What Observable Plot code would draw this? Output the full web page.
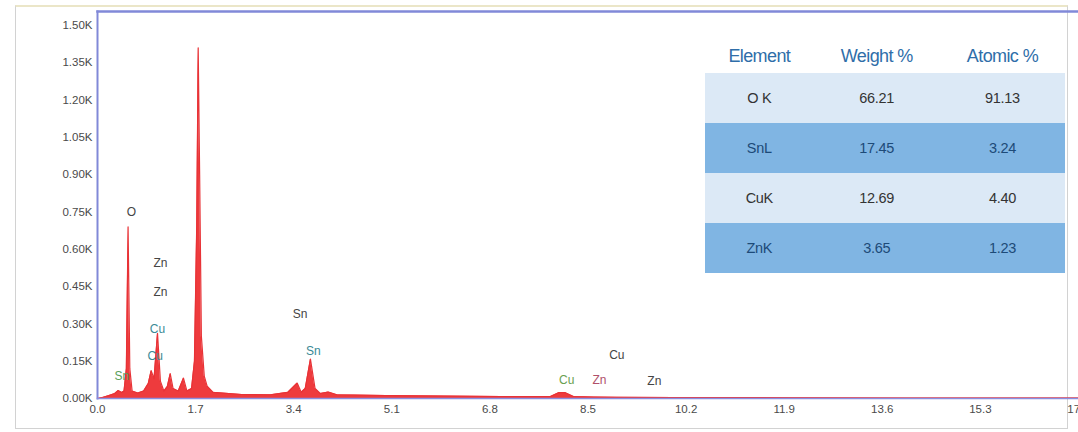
<!DOCTYPE html>
<html>
<head>
<meta charset="utf-8">
<script src="https://cdn.jsdelivr.net/npm/d3@7"></script>
<script src="https://cdn.jsdelivr.net/npm/@observablehq/plot@0.6"></script>
<style>
  body { margin: 0; background: #fff; font-family: "Liberation Sans", Arial, sans-serif; }
  #wrap { position: relative; width: 1078px; height: 432px; overflow: hidden; }
  #outer { position: absolute; left: 15px; top: 5px; width: 1053px; height: 424px; border: 1px solid #d2d2d2; border-top: 2px solid #ebe6c8; box-sizing: border-box; }
  #chart { position: absolute; left: 0; top: 0; }
  #tbl { position: absolute; left: 705px; top: 40px; width: 360px; border-collapse: collapse; font-family: "Liberation Sans", Arial, sans-serif; }
  #tbl th { height: 33px; font-weight: normal; font-size: 18px; color: #2f6ea9; text-align: center; padding: 0; letter-spacing: -0.6px; }
  #tbl td { height: 50px; font-size: 14.5px; text-align: center; padding: 0; letter-spacing: -0.3px; }
  #tbl tr.light td { background: #dce9f6; color: #333; }
  #tbl tr.dark td { background: #80b5e3; color: #1d4a78; }
</style>
</head>
<body>
<div id="wrap">
  <div id="outer"></div>
  <div id="chart"></div>
  <table id="tbl"></table>
</div>
<script>
// Spectrum points (energy keV, counts)
const energy = [0.00,0.10,0.20,0.30,0.36,0.42,0.46,0.50,0.53,0.56,0.60,0.70,0.80,0.88,0.93,0.98,1.04,1.09,1.15,1.21,1.26,1.31,1.40,1.49,1.55,1.63,1.68,1.72,1.745,1.77,1.80,1.85,1.90,2.00,2.50,3.00,3.30,3.46,3.53,3.60,3.69,3.77,3.86,4.00,4.15,5.00,6.00,7.00,7.85,8.00,8.10,8.25,8.60,9.00,10.0,12.0,14.0,17.0];
const counts = [0,5,12,20,32,24,30,120,690,120,30,22,30,60,112,80,262,70,30,48,100,40,30,82,30,40,150,700,1410,900,250,90,50,25,16,15,25,62,25,40,158,40,20,26,15,12,10,8,8,24,24,8,6,5,4,3,2,2];

// Peak labels
const labelText = ["O","Zn","Zn","Cu","Cu","Sn","Sn","Sn","Cu","Zn","Cu","Zn"];
const labelX    = [0.59,1.09,1.09,1.04,1.00,0.42,3.51,3.74,8.13,8.70,9.00,9.65];
const labelY    = [748,543,426,277,169,88,338,189,72,72,173,68];
const labelColor= ["#444","#444","#444","#3a8a96","#3a8a96","#5aa05a","#444","#3a8a96","#6aa050","#b0506a","#444","#444"];

// Axis ticks
const xTicks = [0,1.7,3.4,5.1,6.8,8.5,10.2,11.9,13.6,15.3,17];
const yTicks = [0,150,300,450,600,750,900,1050,1200,1350,1500];

// Quantification table
const elements = ["O K","SnL","CuK","ZnK"];
const weightPct = ["66.21","17.45","12.69","3.65"];
const atomicPct = ["91.13","3.24","4.40","1.23"];
const headers = ["Element","Weight %","Atomic %"];

const spectrum = energy.map((e, i) => ({e, c: counts[i]}));
const labels = labelText.map((t, i) => ({t, x: labelX[i], y: labelY[i], color: labelColor[i]}));

const chart = Plot.plot({
  width: 1078,
  height: 432,
  marginLeft: 97,
  marginRight: 0,
  marginTop: 11,
  marginBottom: 34,
  style: {fontFamily: "'Liberation Sans', Arial, sans-serif", fontSize: "11.5px", color: "#4a4a4a", background: "transparent"},
  x: {domain: [0, 17], ticks: xTicks, tickFormat: d => d.toFixed(1), tickSize: 0, tickPadding: 6, label: null},
  y: {domain: [0, 1556], ticks: yTicks, tickFormat: d => (d / 1000).toFixed(2) + "K", tickSize: 0, tickPadding: 5, label: null},
  marks: [
    Plot.areaY(spectrum, {x: "e", y: "c", fill: "#ee3b3d", curve: "linear"}),
    Plot.lineY(spectrum, {x: "e", y: "c", stroke: "#e83236", strokeWidth: 1.2, curve: "linear"}),
    Plot.frame({anchor: "top", stroke: "#8189d8", strokeWidth: 2.5}),
    Plot.frame({anchor: "left", stroke: "#8189d8", strokeWidth: 2}),
    Plot.frame({anchor: "bottom", stroke: "#8a8ee0", strokeWidth: 1.5}),
    Plot.text(labels, {x: "x", y: "y", text: "t", fill: "color", fontSize: 12})
  ]
});
document.getElementById("chart").appendChild(chart);

// Build table
const tbl = document.getElementById("tbl");
const hr = document.createElement("tr");
headers.forEach(h => { const th = document.createElement("th"); th.textContent = h; hr.appendChild(th); });
tbl.appendChild(hr);
elements.forEach((el, i) => {
  const tr = document.createElement("tr");
  tr.className = i % 2 === 0 ? "light" : "dark";
  [el, weightPct[i], atomicPct[i]].forEach(v => { const td = document.createElement("td"); td.textContent = v; tr.appendChild(td); });
  tbl.appendChild(tr);
});
</script>
</body>
</html>
